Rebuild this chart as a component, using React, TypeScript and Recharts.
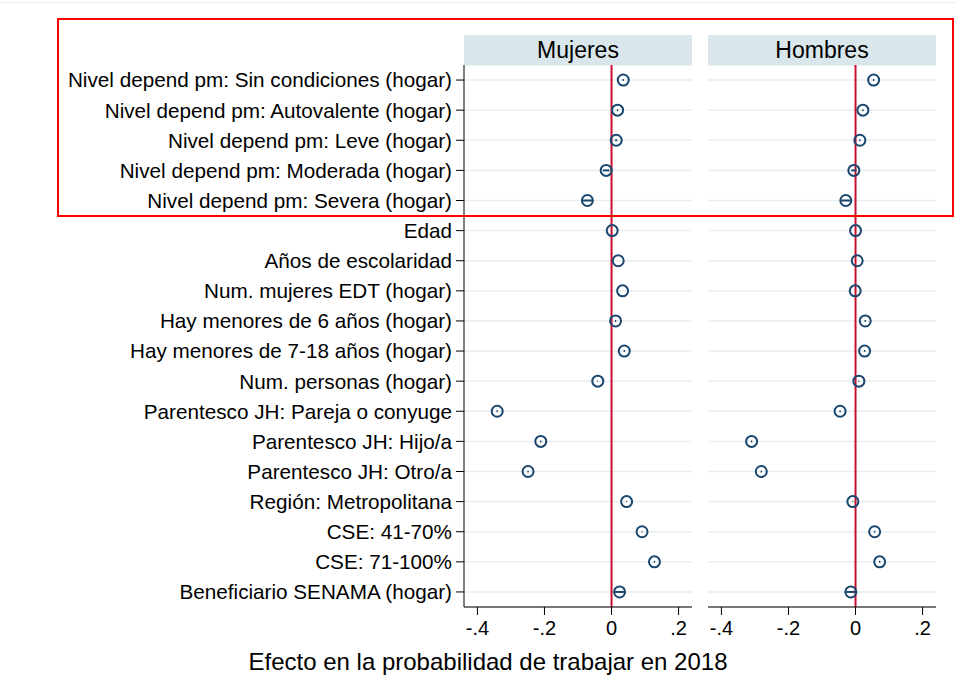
import React from 'react';
import {
  ScatterChart, Scatter, XAxis, YAxis, CartesianGrid, ReferenceLine, ErrorBar
} from 'recharts';

const labels = [
  'Nivel depend pm: Sin condiciones (hogar)',
  'Nivel depend pm: Autovalente (hogar)',
  'Nivel depend pm: Leve (hogar)',
  'Nivel depend pm: Moderada (hogar)',
  'Nivel depend pm: Severa (hogar)',
  'Edad',
  'Años de escolaridad',
  'Num. mujeres EDT (hogar)',
  'Hay menores de 6 años (hogar)',
  'Hay menores de 7-18 años (hogar)',
  'Num. personas (hogar)',
  'Parentesco JH: Pareja o conyuge',
  'Parentesco JH: Hijo/a',
  'Parentesco JH: Otro/a',
  'Región: Metropolitana',
  'CSE: 41-70%',
  'CSE: 71-100%',
  'Beneficiario SENAMA (hogar)',
];

const mujeres = [0.035, 0.018, 0.014, -0.016, -0.072, 0.002, 0.02, 0.033, 0.012, 0.038, -0.041, -0.341, -0.211, -0.249, 0.045, 0.091, 0.128, 0.024];
const mujeresCI = [0.002, 0.002, 0.003, 0.01, 0.015, 0.0, 0.0, 0.0, 0.002, 0.002, 0.001, 0.002, 0.002, 0.002, 0.001, 0.001, 0.002, 0.014];
const hombres = [0.054, 0.022, 0.013, -0.005, -0.029, 0.0, 0.005, -0.001, 0.029, 0.027, 0.01, -0.046, -0.31, -0.281, -0.008, 0.057, 0.072, -0.014];
const hombresCI = [0.002, 0.002, 0.002, 0.008, 0.014, 0.0, 0.0, 0.0, 0.002, 0.002, 0.001, 0.002, 0.002, 0.002, 0.001, 0.002, 0.002, 0.014];

const xTicks = [-0.4, -0.2, 0, 0.2];
const panels = ['Mujeres', 'Hombres'];

const FONT = '"Liberation Sans", Arial, Helvetica, sans-serif';
const NAVY = '#1a476f';
const rows = labels.map((_, i) => i + 1);

const fmtX = (v: number) => (v === 0 ? '0' : v.toFixed(1).replace('0.', '.'));

const buildData = (vals: number[], ci: number[]) =>
  vals.map((x, i) => ({ row: i + 1, x, ci: ci[i] }));

const Marker = (props: any) => {
  const { cx, cy } = props;
  if (cx == null || cy == null) return null;
  return <circle cx={cx} cy={cy} r={5.5} fill="none" stroke={NAVY} strokeWidth={2} />;
};

const Panel = ({ data, showLabels, width, left }: { data: any[]; showLabels: boolean; width: number; left: number }) => (
  <ScatterChart
    width={width}
    height={650}
    margin={{ top: 65, right: 8, bottom: 0, left: left }}
    style={{ fontFamily: FONT }}
  >
    <CartesianGrid vertical={false} stroke="#e6eef1" strokeWidth={1.5} />
    <XAxis
      type="number"
      dataKey="x"
      domain={[-0.44, 0.24]}
      ticks={xTicks}
      tickFormatter={fmtX}
      allowDataOverflow
      height={43}
      tickSize={8}
      tickMargin={6}
      stroke="#000"
      tick={{ fill: '#000', fontSize: 20, fontFamily: FONT }}
    />
    <YAxis
      type="number"
      dataKey="row"
      domain={[0.5, 18.5]}
      reversed
      ticks={rows}
      interval={0}
      tickFormatter={(v: number) => labels[v - 1]}
      width={showLabels ? 464 : 0}
      hide={!showLabels}
      tickSize={8}
      tickMargin={4}
      stroke="#000"
      tick={{ fill: '#000', fontSize: 20.7, fontFamily: FONT }}
    />
    <ReferenceLine x={0} stroke="#c8102e" strokeWidth={2} />
    <Scatter data={data} shape={<Marker />} isAnimationActive={false}>
      <ErrorBar dataKey="ci" direction="x" width={0} stroke={NAVY} strokeWidth={2} />
    </Scatter>
  </ScatterChart>
);

export default function App() {
  return (
    <div style={{ position: 'absolute', left: 0, top: 0, width: 956, height: 697, background: '#fff', fontFamily: FONT }}>
      <div style={{ position: 'absolute', left: 0, top: 2, width: 956, height: 1, background: '#e8eef1' }} />
      <div style={{ position: 'absolute', left: 0, top: 0 }}>
        <Panel data={buildData(mujeres, mujeresCI)} showLabels width={700} left={0} />
      </div>
      <div style={{ position: 'absolute', left: 700, top: 0 }}>
        <Panel data={buildData(hombres, hombresCI)} showLabels={false} width={244} left={8} />
      </div>
      {panels.map((p, i) => (
        <div
          key={p}
          style={{
            position: 'absolute',
            left: i === 0 ? 464 : 708,
            top: 35,
            width: 228,
            height: 30,
            background: '#d9e6eb',
            fontSize: 23,
            lineHeight: '30px',
            textAlign: 'center',
            color: '#000',
          }}
        >
          {p}
        </div>
      ))}
      <div
        style={{
          position: 'absolute',
          left: 88,
          width: 800,
          top: 648,
          textAlign: 'center',
          fontSize: 24,
          color: '#000',
          whiteSpace: 'nowrap',
        }}
      >
        Efecto en la probabilidad de trabajar en 2018
      </div>
      <div
        style={{
          position: 'absolute',
          left: 57,
          top: 18,
          width: 954 - 57,
          height: 217 - 18,
          boxSizing: 'border-box',
          border: '2px solid #ff0000',
          pointerEvents: 'none',
        }}
      />
    </div>
  );
}
